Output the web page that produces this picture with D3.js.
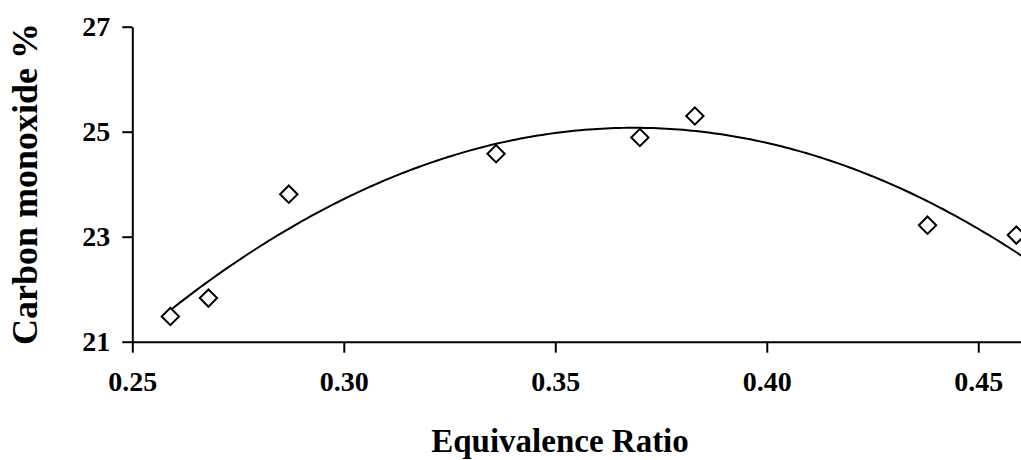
<!DOCTYPE html>
<html>
<head>
<meta charset="utf-8">
<script src="https://cdn.jsdelivr.net/npm/d3@7"></script>
<style>
  html, body { margin: 0; padding: 0; background: #fff; }
  svg { display: block; }
  text { font-family: "Liberation Serif", "Times New Roman", serif; font-weight: bold; fill: #000; }
</style>
</head>
<body>
<svg id="chart" width="1021" height="460"></svg>
<script>
// Measured CO concentration against equivalence ratio
const equivalenceRatio = [0.259, 0.268, 0.287, 0.336, 0.370, 0.383, 0.438, 0.459];
const carbonMonoxide   = [21.48, 21.83, 23.81, 24.58, 24.89, 25.30, 23.22, 23.03];

const xTicks = [0.25, 0.30, 0.35, 0.40, 0.45];
const yTicks = [21, 23, 25, 27];

const xTitle = "Equivalence Ratio";
const yTitle = "Carbon monoxide %";

const W = 1021, H = 460;
const svg = d3.select("#chart");

const x = d3.scaleLinear().domain([0.25, 0.461]).range([132.3, 1024.8]);
const y = d3.scaleLinear().domain([21, 27]).range([341.7, 26.7]);

// Second-order polynomial trendline (least squares) through the measurements
function quadFit(xs, ys) {
  const n = xs.length;
  let s = [0, 0, 0, 0, 0], t = [0, 0, 0];
  for (let i = 0; i < n; i++) {
    let p = 1;
    for (let k = 0; k <= 4; k++) { s[k] += p; if (k <= 2) t[k] += p * ys[i]; p *= xs[i]; }
  }
  const A = [[s[0], s[1], s[2], t[0]], [s[1], s[2], s[3], t[1]], [s[2], s[3], s[4], t[2]]];
  for (let c = 0; c < 3; c++) {
    for (let r = c + 1; r < 3; r++) {
      const f = A[r][c] / A[c][c];
      for (let k = c; k < 4; k++) A[r][k] -= f * A[c][k];
    }
  }
  const b = [0, 0, 0];
  for (let r = 2; r >= 0; r--) {
    let v = A[r][3];
    for (let k = r + 1; k < 3; k++) v -= A[r][k] * b[k];
    b[r] = v / A[r][r];
  }
  return xv => b[0] + b[1] * xv + b[2] * xv * xv;
}
const trend = quadFit(equivalenceRatio, carbonMonoxide);

svg.append("defs").append("clipPath").attr("id", "plotClip")
  .append("rect").attr("x", 0).attr("y", 0).attr("width", W).attr("height", H);

// Axes
const xAxis = d3.axisBottom(x).tickValues(xTicks).tickFormat(d3.format(".2f"))
  .tickSize(11).tickSizeOuter(0).tickPadding(18);
const yAxis = d3.axisLeft(y).tickValues(yTicks).tickFormat(d3.format("d"))
  .tickSize(10).tickSizeOuter(0).tickPadding(12);

const gx = svg.append("g").attr("transform", `translate(0,${y(21)})`).call(xAxis);
const gy = svg.append("g").attr("transform", `translate(${x(0.25)},0)`).call(yAxis);

[gx, gy].forEach(g => {
  g.select(".domain").attr("stroke", "#000").attr("stroke-width", 2);
  g.selectAll(".tick line").attr("stroke", "#000").attr("stroke-width", 2);
  g.selectAll(".tick text").style("font-family", "Liberation Serif, serif")
    .style("font-weight", "bold").style("font-size", "28px").attr("fill", "#000");
});

// Trendline
const xs = d3.range(0, 201).map(i => equivalenceRatio[0] + i * (0.461 - equivalenceRatio[0]) / 200);
svg.append("path")
  .attr("clip-path", "url(#plotClip)")
  .attr("d", d3.line().x(d => x(d)).y(d => y(trend(d)))(xs))
  .attr("fill", "none").attr("stroke", "#000").attr("stroke-width", 2);

// Diamond markers
const diamond = d3.symbol().type(d3.symbolSquare).size(150);
svg.append("g").selectAll("path")
  .data(equivalenceRatio.map((v, i) => [v, carbonMonoxide[i]]))
  .join("path")
  .attr("d", diamond)
  .attr("transform", d => `translate(${x(d[0])},${y(d[1])}) rotate(45)`)
  .attr("fill", "#fff").attr("stroke", "#000").attr("stroke-width", 2);

// Axis titles
svg.append("text").attr("x", 560).attr("y", 452)
  .attr("text-anchor", "middle").style("font-size", "33px").text(xTitle);

svg.append("text").attr("transform", "translate(37,184) rotate(-90)")
  .attr("text-anchor", "middle").style("font-size", "36px").text(yTitle);
</script>
</body>
</html>
